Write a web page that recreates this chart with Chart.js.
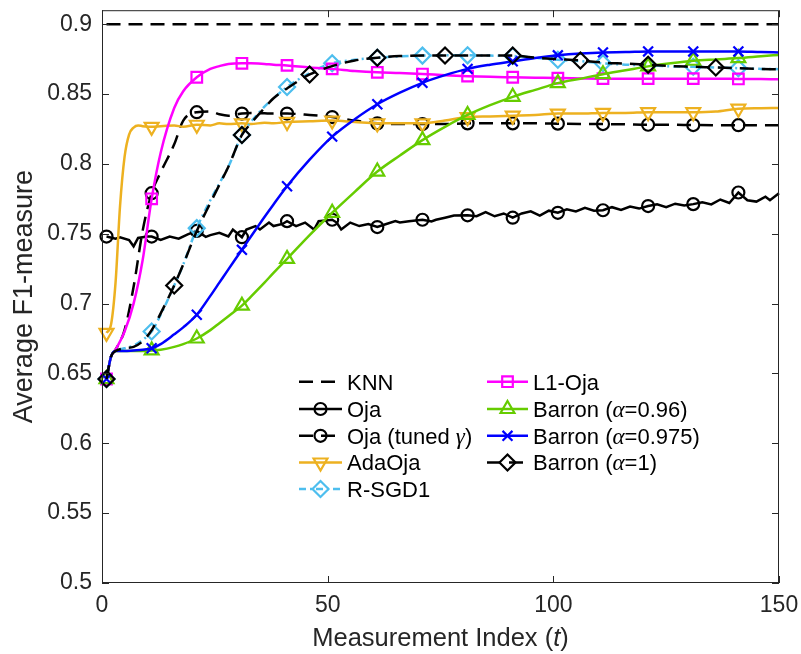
<!DOCTYPE html>
<html><head><meta charset="utf-8">
<script src="https://cdn.jsdelivr.net/npm/chart.js@4.4.1/dist/chart.umd.min.js"></script>
<style>html,body{margin:0;padding:0;background:#fff;}canvas{display:block;}</style>
</head><body>
<canvas id="c" width="801" height="654"></canvas>
<script>
// ---------------- data ----------------
const xTickValues = [0, 50, 100, 150];
const yTickValues = [0.5, 0.55, 0.6, 0.65, 0.7, 0.75, 0.8, 0.85, 0.9];
const yTickLabels = ['0.5', '0.55', '0.6', '0.65', '0.7', '0.75', '0.8', '0.85', '0.9'];
const xAxisLabel = ['Measurement Index (', '_t_', ')'];
const yAxisLabel = 'Average F1-measure';

const seriesLabels = ['KNN', 'Oja', 'Oja (tuned _γ_)', 'AdaOja', 'R-SGD1', 'L1-Oja',
  'Barron (_α_=0.96)', 'Barron (_α_=0.975)', 'Barron (_α_=1)'];

const tKnn = [1, 150];
const yKnn = [0.9, 0.9];

const tOja = [1,3,4,6,7,8,10,11,13,15,17,19,21,23,24,26,28,29,31,32,34,35,37,38,40,41,43,45,47,48,51,52,53,55,57,59,61,63,65,66,68,71,73,74,76,78,81,83,85,87,89,91,93,95,97,99,101,103,105,107,109,111,113,115,117,119,121,123,125,127,129,131,133,135,137,139,141,143,145,147,148,150];
const yOja = [0.748,0.7465,0.7475,0.7455,0.741,0.747,0.748,0.748,0.7455,0.748,0.7465,0.7495,0.752,0.7478,0.749,0.7507,0.748,0.753,0.7475,0.753,0.7555,0.753,0.758,0.7555,0.757,0.759,0.7555,0.758,0.753,0.759,0.760,0.758,0.753,0.758,0.7555,0.757,0.7548,0.757,0.759,0.758,0.759,0.760,0.7588,0.760,0.7615,0.763,0.7632,0.7626,0.7655,0.7625,0.7645,0.7615,0.7645,0.766,0.763,0.7665,0.765,0.7675,0.766,0.7685,0.7665,0.7668,0.769,0.767,0.7695,0.768,0.7698,0.771,0.769,0.7715,0.7702,0.7712,0.7725,0.771,0.7745,0.772,0.7795,0.774,0.773,0.7765,0.774,0.779];

const tGrid = [1,2,3,5,7,9,11,13,16,18,21,24,26,28,31,33,36,38,41,46,51,56,61,66,71,76,81,86,91,96,101,106,111,116,121,126,131,136,141,146,150];
const yOjaTuned = [0.646,0.662,0.667,0.681,0.712,0.752,0.779,0.794,0.814,0.831,0.837,0.8375,0.8355,0.8345,0.836,0.8365,0.8362,0.836,0.836,0.835,0.8335,0.831,0.829,0.8285,0.8285,0.8285,0.829,0.829,0.829,0.829,0.8288,0.8286,0.8285,0.8283,0.828,0.828,0.8278,0.8277,0.8277,0.8276,0.8276];
const yRSGD1 = [0.646,0.662,0.666,0.668,0.670,0.674,0.680,0.692,0.713,0.728,0.754,0.774,0.786,0.798,0.8207,0.830,0.841,0.847,0.855,0.865,0.872,0.8745,0.876,0.877,0.8775,0.8777,0.8777,0.8775,0.8772,0.876,0.8745,0.8735,0.872,0.871,0.8705,0.8698,0.8695,0.869,0.8685,0.868,0.8678];
const yL1Oja = [0.646,0.662,0.667,0.680,0.700,0.731,0.775,0.808,0.840,0.852,0.862,0.868,0.870,0.8715,0.872,0.872,0.8715,0.871,0.8705,0.869,0.868,0.8665,0.8655,0.865,0.8643,0.8635,0.8628,0.8623,0.862,0.8617,0.8614,0.8612,0.861,0.861,0.861,0.861,0.861,0.861,0.8608,0.8607,0.8606];
const yBarron096 = [0.646,0.662,0.666,0.666,0.666,0.666,0.6665,0.667,0.669,0.671,0.675,0.681,0.686,0.691,0.6985,0.705,0.715,0.722,0.732,0.749,0.765,0.780,0.7945,0.806,0.817,0.8265,0.835,0.842,0.848,0.853,0.8578,0.861,0.8642,0.867,0.8698,0.872,0.8738,0.8748,0.8757,0.877,0.878];
const yBarron0975 = [0.646,0.662,0.666,0.666,0.6665,0.667,0.668,0.671,0.678,0.683,0.692,0.7055,0.715,0.7245,0.7385,0.748,0.762,0.771,0.784,0.803,0.8195,0.832,0.8427,0.851,0.858,0.8635,0.868,0.871,0.8734,0.8758,0.8777,0.879,0.8798,0.880,0.8805,0.8805,0.8805,0.8805,0.8805,0.880,0.8798];
const yBarron1 = [0.646,0.662,0.666,0.668,0.669,0.673,0.681,0.693,0.713,0.728,0.752,0.772,0.785,0.798,0.8207,0.829,0.840,0.847,0.854,0.864,0.870,0.874,0.876,0.8772,0.8776,0.8776,0.8776,0.8776,0.8776,0.876,0.875,0.874,0.8725,0.8718,0.871,0.870,0.8695,0.869,0.8685,0.868,0.8676];

const tAdaOja = [1,2,3,4,5,6,7,8,9,11,13,16,18,21,24,26,28,31,33,36,38,41,46,51,56,61,66,71,76,81,86,91,96,101,106,111,116,121,126,131,136,141,146,150];
const yAdaOja = [0.679,0.685,0.715,0.770,0.805,0.821,0.826,0.8275,0.827,0.8265,0.827,0.8275,0.8265,0.828,0.8275,0.829,0.8285,0.829,0.8285,0.8295,0.829,0.830,0.8305,0.831,0.830,0.829,0.829,0.829,0.831,0.8335,0.834,0.8345,0.835,0.836,0.836,0.8365,0.8365,0.837,0.837,0.837,0.8375,0.8395,0.8398,0.840];

// ---------------- styles ----------------
const FONT = '"Liberation Sans", Arial, Helvetica, sans-serif';
const SERIF = '"Liberation Serif", "DejaVu Serif", serif';
const AXIS_COLOR = '#262626';

const styles = [
  {t: tKnn, y: yKnn, color: '#000000', dash: [14, 8], marker: null, smooth: false},
  {t: tOja, y: yOja, color: '#000000', dash: [], marker: 'circle', r: 6, every: 10, smooth: false},
  {t: tGrid, y: yOjaTuned, color: '#000000', dash: [14, 8], marker: 'circle', r: 6, every: 10, smooth: true},
  {t: tAdaOja, y: yAdaOja, color: '#EDB120', dash: [], marker: 'triangle', r: 8, rot: 180, every: 10, smooth: true},
  {t: tGrid, y: yRSGD1, color: '#4DBEEE', dash: [7, 4, 2, 4], marker: 'rectRot', r: 8, every: 10, smooth: true},
  {t: tGrid, y: yL1Oja, color: '#FF00FF', dash: [], marker: 'rect', r: 7.5, every: 10, smooth: true},
  {t: tGrid, y: yBarron096, color: '#66CC00', dash: [], marker: 'triangle', r: 8, every: 10, smooth: true},
  {t: tGrid, y: yBarron0975, color: '#0000FF', dash: [], marker: 'crossRot', r: 7, every: 10, smooth: true},
  {t: tGrid, y: yBarron1, color: '#000000', dash: [14, 8], marker: 'rectRot', r: 8, every: 15, smooth: true},
];

const N = styles.length;
const datasets = styles.map((s, i) => ({
  label: seriesLabels[i].replace(/_/g, ''),
  data: s.t.map((x, j) => ({x: x, y: s.y[j]})),
  borderColor: s.color,
  backgroundColor: 'rgba(0,0,0,0)',
  borderWidth: 2.5,
  borderDash: s.dash,
  tension: 0,
  cubicInterpolationMode: s.smooth ? 'monotone' : 'default',
  pointStyle: s.marker || 'circle',
  pointRotation: s.rot || 0,
  pointRadius: (ctx) => (s.marker && ctx.raw && ((ctx.raw.x - 1) % s.every === 0)) ? s.r : 0,
  pointHoverRadius: 0,
  pointBorderWidth: 2.2,
  pointBorderColor: s.color,
  pointBackgroundColor: 'rgba(0,0,0,0)',
  order: N - i,
  clip: false,
  fill: false
}));

function richParts(str) {
  return str.split('_').map((p, k) => ({text: p, italic: k % 2 === 1})).filter(p => p.text.length);
}
function drawRich(ctx, parts, x, y, size, align) {
  const fonts = parts.map(p => p.italic === 'sans' ? `italic ${size}px ${FONT}` :
    (p.italic ? `italic ${size + 1}px ${SERIF}` : `${size}px ${FONT}`));
  let total = 0;
  const widths = parts.map((p, k) => { ctx.font = fonts[k]; const w = ctx.measureText(p.text).width; total += w; return w; });
  let cx = align === 'center' ? x - total / 2 : x;
  parts.forEach((p, k) => { ctx.font = fonts[k]; ctx.fillText(p.text, cx, y); cx += widths[k]; });
}

const framePlugin = {
  id: 'frame',
  afterDraw(chart) {
    const {ctx, chartArea: a, scales: {x, y}} = chart;
    ctx.save();
    ctx.setLineDash([]);
    ctx.strokeStyle = AXIS_COLOR;
    ctx.lineWidth = 1;
    ctx.strokeRect(a.left + 0.5, a.top + 0.5, a.right - a.left - 1, a.bottom - a.top - 1);
    ctx.beginPath();
    yTickValues.forEach(v => {
      const py = Math.round(y.getPixelForValue(v)) + 0.5;
      ctx.moveTo(a.left, py); ctx.lineTo(a.left + 7, py);
      ctx.moveTo(a.right, py); ctx.lineTo(a.right - 7, py);
    });
    xTickValues.forEach(v => {
      const px = Math.round(x.getPixelForValue(v)) + 0.5;
      ctx.moveTo(px, a.bottom); ctx.lineTo(px, a.bottom - 7);
      ctx.moveTo(px, a.top); ctx.lineTo(px, a.top + 7);
    });
    ctx.stroke();
    // x axis title with italic t
    ctx.fillStyle = AXIS_COLOR;
    ctx.textBaseline = 'alphabetic';
    const parts = xAxisLabel.map(s => s.startsWith('_') ? {text: s.replace(/_/g, ''), italic: 'sans'} : {text: s, italic: false});
    drawRich(ctx, parts, (a.left + a.right) / 2, 646, 25.5, 'center');
    ctx.restore();
  }
};

const legendPlugin = {
  id: 'customLegend',
  afterDraw(chart) {
    const {ctx} = chart;
    const cols = [
      {items: [0, 1, 2, 3, 4], x0: 299, x1: 342, tx: 347},
      {items: [5, 6, 7, 8], x0: 487, x1: 528, tx: 533}
    ];
    const rowY = [381.7, 409, 435.8, 462.5, 489];
    ctx.save();
    cols.forEach(col => {
      col.items.forEach((di, r) => {
        const s = styles[di];
        const cy = rowY[r];
        ctx.strokeStyle = s.color;
        ctx.lineWidth = 2.5;
        ctx.setLineDash(s.dash);
        ctx.beginPath();
        ctx.moveTo(col.x0, cy); ctx.lineTo(col.x1, cy);
        ctx.stroke();
        ctx.setLineDash([]);
        if (s.marker) {
          ctx.lineWidth = 2.2;
          ctx.fillStyle = 'rgba(0,0,0,0)';
          Chart.helpers.drawPoint(ctx, {pointStyle: s.marker, rotation: s.rot || 0, radius: s.r, borderWidth: 2.2}, (col.x0 + col.x1) / 2, cy);
        }
        ctx.fillStyle = '#000000';
        ctx.textBaseline = 'alphabetic';
        drawRich(ctx, richParts(seriesLabels[di]), col.tx, cy + 7.8, 22, 'left');
      });
    });
    ctx.restore();
  }
};

new Chart(document.getElementById('c'), {
  type: 'line',
  data: {datasets},
  plugins: [framePlugin, legendPlugin],
  options: {
    responsive: false,
    animation: false,
    devicePixelRatio: 1,
    events: [],
    layout: {padding: {left: 0, right: 22, top: 10, bottom: 0}},
    plugins: {legend: {display: false}, tooltip: {enabled: false}},
    scales: {
      x: {
        type: 'linear', min: 0, max: 150,
        grid: {display: false, drawTicks: false},
        border: {display: false},
        ticks: {stepSize: 50, padding: 9, color: AXIS_COLOR, font: {family: FONT, size: 23}, maxRotation: 0,
          callback: v => String(v)},
        afterFit: s => { s.height = 71; s.paddingLeft = 0; s.paddingRight = 0; }
      },
      y: {
        type: 'linear', min: 0.5, max: 0.91,
        grid: {display: false, drawTicks: false},
        border: {display: false},
        ticks: {stepSize: 0.05, includeBounds: false, padding: 10, color: AXIS_COLOR, font: {family: FONT, size: 23},
          callback: v => { const k = yTickValues.findIndex(t => Math.abs(t - v) < 1e-6); return k >= 0 ? yTickLabels[k] : ''; }},
        title: {display: true, text: yAxisLabel, color: AXIS_COLOR, font: {family: FONT, size: 27}, padding: {top: 8, bottom: 0}},
        afterFit: s => { s.width = 102; s.paddingTop = 0; s.paddingBottom = 0; }
      }
    }
  }
});
</script>
</body></html>
